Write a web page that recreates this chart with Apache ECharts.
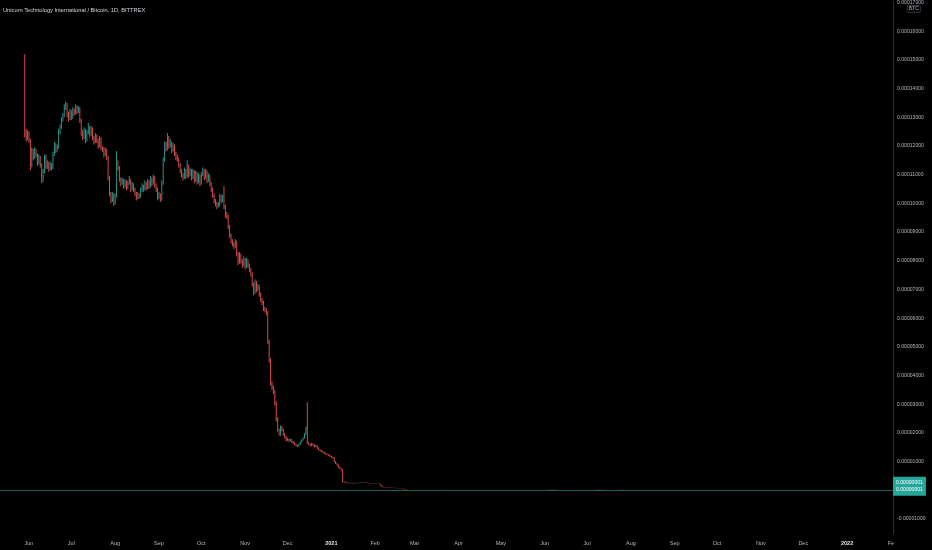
<!DOCTYPE html>
<html><head><meta charset="utf-8">
<script src="https://cdn.jsdelivr.net/npm/echarts@6/dist/echarts.min.js"></script>
<style>html,body{margin:0;padding:0;background:#000}#c{width:932px;height:550px}</style>
</head><body><div id="c"></div>
<script>
// ---------- data (prices in satoshi, 1 sat = 0.00000001 BTC) ----------
const SAT = 1e-8;
const TITLE = 'Unicorn Technology International / Bitcoin, 1D, BITTREX';
const START_DATE = '2020-05-12';   // first day on the axis (left edge)
const DAYS = 632;                  // days on the axis, up to 2022-02-02
const FIRST_CANDLE = '2020-05-29';
const MONTHS = ['Jan','Feb','Mar','Apr','May','Jun','Jul','Aug','Sep','Oct','Nov','Dec'];
const firstOpen = 13000;
const closes = [
12400,12300,12450,12200,11300,11850,11600,11850,11700,11400,
11600,11350,10800,11100,11650,11300,11400,11200,11350,11250,
11700,12050,11850,11950,12500,12650,12900,13050,13350,13450,
13100,12950,13200,13000,13250,13150,13350,13200,13300,12900,
12450,12300,12550,12200,12450,12650,12400,12600,12300,12150,
12350,12200,12000,12250,11930,11900,11700,11850,11600,10900,
10330,10150,10300,10000,10250,11400,11250,10850,10700,10800,
10600,10750,10550,10700,10800,10500,10650,10480,10350,10200,
10300,10250,10450,10600,10500,10700,10550,10750,10600,10850,
10700,10900,10650,10500,10200,10300,10150,10700,11500,12050,
11900,12300,12000,12100,11850,12000,11750,11600,11550,11350,
11150,11000,10900,11150,10950,11300,11000,11150,10900,11100,
10800,11050,10750,10950,10700,11000,11150,10900,11100,10800,
10950,10700,10500,10300,10100,10000,9900,9950,10250,10100,
10200,9900,9600,9550,9200,8900,8700,8600,8500,8650,
8250,7950,8200,8000,7850,8050,7800,8000,7850,7700,
7550,7200,6900,7250,7000,7100,6850,6650,6550,6350,
6300,6200,5200,4550,3750,3600,3450,3050,2500,2100,
1950,2200,2100,1950,1850,1750,1780,1720,1760,1690,
1650,1600,1560,1540,1600,1680,1750,1820,1950,2170,
1650,1600,1560,1620,1580,1520,1560,1480,1420,1380,
1350,1320,1290,1260,1240,1230,1180,1150,1140,1000,
930,880,800,760,720,300,280,270,260,255,
250,250,245,250,255,248,252,260,270,275,
265,270,260,255,250,245,240,242,238,240,
235,220,160,115,110,105,100,95,100,90,
85,80,78,80,75,65,60,55,40,25,
10,5,3,2];
const highs = [
15200,12600,12550,12500,12250,11950,11900,11950,11900,11750,
11700,11650,11400,11200,11700,11700,11500,11450,11450,11400,
11800,12150,12100,12050,12600,12750,13000,13150,13450,13550,
13500,13200,13300,13250,13350,13300,13450,13400,13400,13350,
12950,12550,12650,12600,12550,12800,12700,12700,12650,12350,
12450,12400,12250,12350,12300,12000,11950,11950,11900,11650,
10950,10400,10400,10350,10350,11820,11500,11300,10900,10900,
10850,10850,10800,10800,10950,10850,10750,10700,10550,10400,
10400,10350,10550,10700,10650,10800,10750,10850,10800,10950,
10900,11000,10950,10700,10550,10400,10350,10800,11600,12150,
12150,12450,12350,12250,12150,12100,12050,11800,11700,11600,
11400,11200,11050,11250,11200,11500,11350,11250,11200,11200,
11150,11150,11100,11050,11000,11100,11250,11200,11200,11150,
11050,11000,10750,10550,10350,10150,10050,10050,10350,10300,
10300,10600,9950,9700,9600,9250,8950,8750,8650,8750,
8700,8300,8300,8250,8050,8150,8100,8100,8050,7900,
7750,7600,7250,7350,7300,7200,7150,6900,6700,6600,
6400,6350,6250,5250,4600,3800,3650,3500,3100,2550,
2150,2250,2250,2150,2000,1900,1830,1800,1800,1780,
1720,1680,1620,1590,1630,1710,1780,1850,1990,2220,
3070,1680,1620,1650,1640,1600,1590,1580,1500,1440,
1400,1370,1340,1310,1280,1260,1250,1200,1170,1160,
1020,950,900,820,780,740,310,290,280,270,
262,258,256,258,262,260,258,266,278,282,
280,276,274,265,260,255,250,248,246,245,
244,238,225,165,120,115,110,105,105,104,
95,90,84,84,82,78,68,62,58,42,
27,11,6,4];
const lows = [
12300,12150,12200,12100,11150,11250,11500,11550,11600,11300,
11350,11250,10700,10750,11050,11200,11200,11100,11150,11150,
11200,11650,11750,11800,11900,12400,12600,12850,13000,13250,
13000,12850,12900,12900,12950,13050,13100,13100,13150,12800,
12350,12200,12250,12100,12150,12400,12300,12350,12200,12050,
12100,12100,11900,11950,11850,11800,11600,11650,11500,10800,
10250,10000,10050,9900,9950,10200,11150,10750,10600,10650,
10500,10550,10450,10500,10650,10400,10450,10400,10250,10100,
10150,10150,10200,10400,10400,10450,10450,10500,10500,10550,
10600,10650,10550,10400,10100,10150,10050,10100,10650,11450,
11800,11850,11900,11950,11750,11800,11650,11500,11450,11250,
11050,10900,10800,10850,10850,10900,10900,10950,10800,10850,
10700,10750,10650,10700,10600,10650,10950,10800,10850,10700,
10750,10600,10400,10200,10000,9900,9800,9850,9900,10000,
10050,9800,9500,9450,9100,8800,8600,8500,8400,8450,
8150,7850,7900,7900,7750,7800,7700,7750,7750,7600,
7450,7100,6800,6850,6900,6950,6750,6550,6450,6250,
6200,6100,5100,4450,3650,3500,3350,2950,2400,2050,
1900,1900,2050,1900,1800,1700,1720,1680,1700,1650,
1620,1570,1530,1510,1520,1580,1660,1730,1800,1930,
1620,1570,1530,1540,1550,1490,1500,1450,1400,1360,
1330,1300,1270,1240,1220,1200,1160,1130,1110,980,
910,860,780,740,700,280,270,260,250,245,
242,242,238,240,245,242,244,248,256,266,
260,262,255,250,245,240,235,236,232,234,
230,215,155,110,105,100,95,90,90,86,
80,76,74,75,70,62,56,50,36,22,
8,4,2,1];
// flat tail after the collapse (closes only, candles are open = previous close)
const tailCloses = [
1,1,2,1,1,1,1,1,1,2,1,1,1,1,1,1,1,1,1,1,
1,1,1,1,2,1,1,1,1,1,1,1,1,1,1,1,2,1,1,1,
1,1,1,1,1,1,1,1,1,1,1,1,1,1,1,1,1,1,1,1,
1,1,1,1,1,2,1,1,1,1,1,1,1,1,1,1,1,1,1,1,
1,1,1,1,1,1,1,1,1,1,1,1,2,
3,8,15,20,12,25,18,10,22,15,8,12,6,4,2,
1,1,1,1,1,1,1,1,1,1,1,1,1,1,1,1,1,1,2,1,
5,15,25,20,30,18,22,12,8,4,2,
1,1,1,1,1,1,1,1,
10,20,8,
1,1,1,1,1,1,1,1,1,1,1,1,1,1,1,1,1,1,1,1,
1,1,1,1,1,1,1,1,1,1,1,1,1,1,1,1,1,1,1,1,
1,1,1,1,1,1,1,1,1,1,1,1,1,1,1,1,1,1,1,1,
1,1,1,1,1,1,1,1,1,1,1,1,1,1,1,1,1,1,1,1,
1,1,1,1,1,1,1,1,1,1,1,1,1,1,1,1,1,1,1,1,
1,1,1,1,1,1,1,1,1,1,1,1,1,1,1,1,1,1,1,1,
1,1,1,1,1,1,1,1,1,1,1,1,1,1,1,1,1,1,1,1,
1,1,1,1,1,1,1,1,1,1,1,1,1,1,1,1,1,1,1,1,
1,1,1,1,1,1,1,1,1,1,1,1,1,1,1,1,1,1,1,1,
1,1,1,1,1,1,1,1,1,1,1];
const yTicks = [-0.00001,0.00001,0.00002,0.00003,0.00004,0.00005,0.00006,0.00007,0.00008,0.00009,
  0.0001,0.00011,0.00012,0.00013,0.00014,0.00015,0.00016,0.00017];
const lastPrice = 0.00000001;
const Y_MIN = -0.00001523, Y_MAX = 0.00017042;

// ---------- build ----------
const cats = [];
const [sy, sm, sd] = START_DATE.split('-').map(Number);
const t0 = Date.UTC(sy, sm - 1, sd);
for (let k = 0; k < DAYS; k++) cats.push(new Date(t0 + k * 86400000).toISOString().slice(0, 10));
const offset = cats.indexOf(FIRST_CANDLE);
const candles = cats.map(() => ['-', '-', '-', '-']);
let prev = firstOpen;
closes.forEach((c, k) => { candles[offset + k] = [prev * SAT, c * SAT, lows[k] * SAT, highs[k] * SAT]; prev = c; });
tailCloses.forEach((c, k) => {
  const o = prev;
  candles[offset + closes.length + k] = [o * SAT, c * SAT, Math.min(o, c) * SAT, Math.max(o, c) * SAT];
  prev = c;
});
const fmt = v => v.toFixed(8);
const FONT = "'Liberation Sans',Arial,sans-serif";

const chart = echarts.init(document.getElementById('c'), null, {renderer: 'canvas'});
chart.setOption({
  backgroundColor: '#000000',
  animation: false,
  title: {text: TITLE, left: 3, top: 7, padding: 0,
    textStyle: {color: '#d1d4dc', fontSize: 5.7, fontWeight: 'normal', fontFamily: FONT}},
  grid: {left: 0, right: 39, top: 0, bottom: 16, containLabel: false},
  xAxis: {
    type: 'category', data: cats, boundaryGap: true,
    axisLine: {show: true, lineStyle: {color: '#2a2e39'}},
    axisTick: {show: false}, splitLine: {show: false},
    axisLabel: {
      interval: (idx, val) => val.slice(8) === '01',
      color: '#b2b5be', fontSize: 5.5, margin: 6, fontFamily: FONT,
      formatter: val => {
        const m = +val.slice(5, 7);
        if (m === 1) return '{yr|' + val.slice(0, 4) + '}';
        if (val === '2022-02-01') return 'Fe';
        return MONTHS[m - 1];
      },
      rich: {yr: {fontWeight: 'bold', color: '#e0e3eb', fontSize: 5.5, fontFamily: FONT}}
    }
  },
  yAxis: {
    type: 'value', position: 'right', min: Y_MIN, max: Y_MAX,
    axisLine: {show: true, lineStyle: {color: '#2a2e39'}},
    axisTick: {show: false}, splitLine: {show: false},
    axisLabel: {customValues: yTicks, formatter: fmt, color: '#b2b5be', fontSize: 5.1, margin: 4, fontFamily: FONT}
  },
  graphic: [{
    type: 'text', left: 907, top: 5, z: 100,
    style: {text: 'BTC', fill: '#b2b5be', font: "5px 'Liberation Sans', sans-serif",
      borderColor: '#5d606b', borderWidth: 0.6, borderRadius: 1, padding: [1, 1.5]}
  }],
  series: [{
    type: 'candlestick', data: candles, barWidth: 1,
    itemStyle: {color: '#26a69a', color0: '#ef5350', borderColor: '#26a69a', borderColor0: '#ef5350', borderWidth: 0.9},
    markLine: {
      symbol: 'none', silent: true, animation: false,
      data: [{yAxis: lastPrice}],
      lineStyle: {color: '#1d5f58', type: 'solid', width: 1, opacity: 1},
      label: {show: true, position: 'end', distance: 0, formatter: () => fmt(lastPrice) + '\n' + fmt(lastPrice),
        backgroundColor: '#26a69a', color: '#ffffff', opacity: 1, fontSize: 5.1, lineHeight: 7.5, padding: [2, 3], offset: [0, -4], fontFamily: FONT}
    }
  }]
});
</script></body></html>
